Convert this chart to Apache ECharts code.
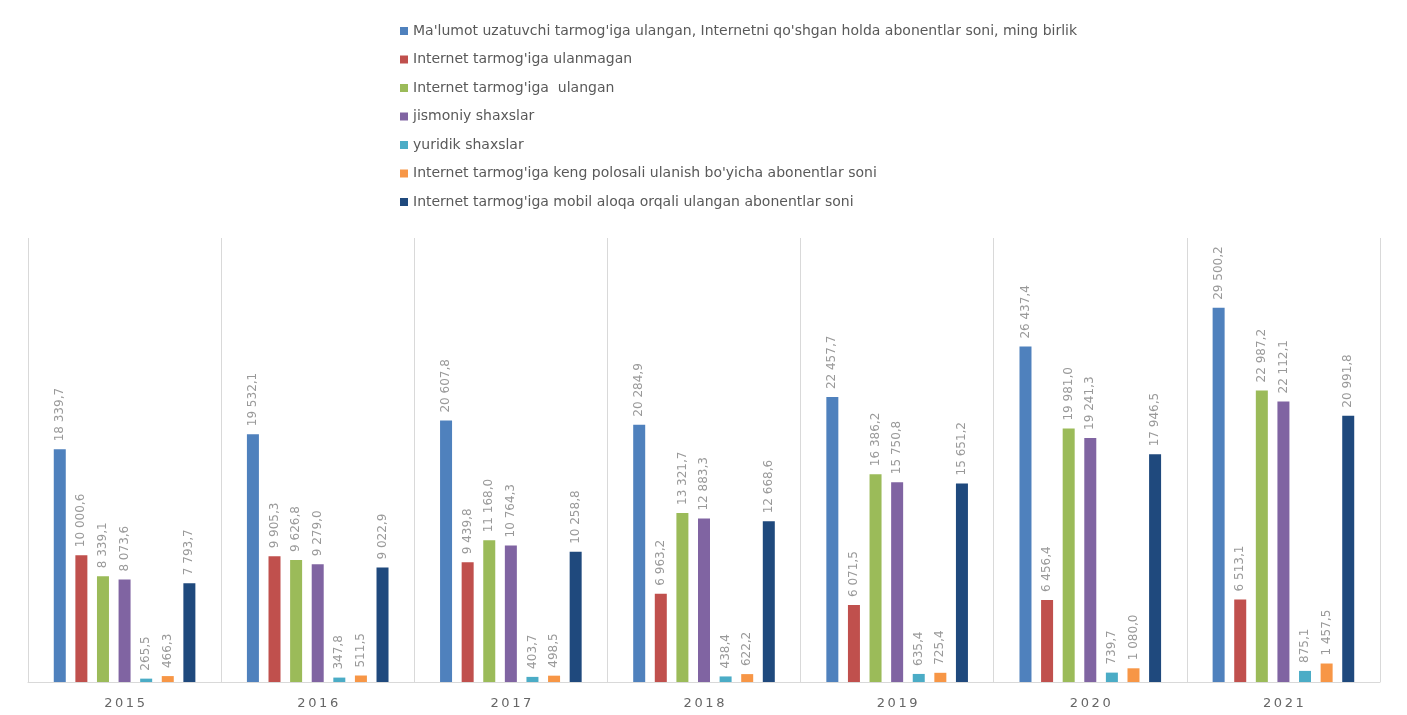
<!DOCTYPE html>
<html><head><meta charset="utf-8">
<script src="https://cdn.jsdelivr.net/npm/echarts@6/dist/echarts.min.js"></script>
<style>html,body{margin:0;padding:0;background:#fff}#c{width:1407px;height:715px}</style>
</head><body><div id="c"></div>
<script>
const years = ['2015','2016','2017','2018','2019','2020','2021'];
const seriesNames = [
  "Ma'lumot uzatuvchi tarmog'iga ulangan, Internetni qo'shgan holda abonentlar soni, ming birlik",
  "Internet tarmog'iga ulanmagan",
  "Internet tarmog'iga  ulangan",
  "jismoniy shaxslar",
  "yuridik shaxslar",
  "Internet tarmog'iga keng polosali ulanish bo'yicha abonentlar soni",
  "Internet tarmog'iga mobil aloqa orqali ulangan abonentlar soni"
];
const totalSubs   = [18339.7, 19532.1, 20607.8, 20284.9, 22457.7, 26437.4, 29500.2];
const notInternet = [10000.6, 9905.3, 9439.8, 6963.2, 6071.5, 6456.4, 6513.1];
const internet    = [8339.1, 9626.8, 11168.0, 13321.7, 16386.2, 19981.0, 22987.2];
const individuals = [8073.6, 9279.0, 10764.3, 12883.3, 15750.8, 19241.3, 22112.1];
const legalEnt    = [265.5, 347.8, 403.7, 438.4, 635.4, 739.7, 875.1];
const broadband   = [466.3, 511.5, 498.5, 622.2, 725.4, 1080.0, 1457.5];
const mobile      = [7793.7, 9022.9, 10258.8, 12668.6, 15651.2, 17946.5, 20991.8];
const allData = [totalSubs, notInternet, internet, individuals, legalEnt, broadband, mobile];
const colors = ['#4F81BD','#C0504D','#9BBB59','#8064A2','#4BACC6','#F79646','#1F497D'];

function fmt(v){
  const s = v.toFixed(1).split('.');
  return s[0].replace(/\B(?=(\d{3})+(?!\d))/g,' ') + ',' + s[1];
}
const chart = echarts.init(document.getElementById('c'));
chart.setOption({
  animation:false,
  color: colors,
  legend:{
    orient:'vertical', left:395, top:19,
    icon:'rect', itemWidth:8, itemHeight:8, itemGap:14.5, itemTextGap:5,
    textStyle:{fontFamily:'DejaVu Sans', fontSize:14, color:'#595959', lineHeight:14}
  },
  grid:{left:28, right:27, top:238, bottom:33},
  xAxis:{
    type:'category', data:years,
    axisLine:{lineStyle:{color:'#d9d9d9'}},
    axisTick:{show:false},
    splitLine:{show:true, lineStyle:{color:'#d9d9d9'}},
    axisLabel:{fontFamily:'DejaVu Sans', fontSize:13, color:'#666666', margin:15,
      formatter: v => v.split('').join('\u2009')}
  },
  yAxis:{type:'value', min:0, max:35000, show:false, splitLine:{show:false}},
  series: allData.map((d,i)=>({
    name: seriesNames[i], type:'bar', data:d, barWidth:12, barGap:'80%',
    label:{show:true, position:'top', rotate:90, align:'left', verticalAlign:'middle', distance:8,
      fontFamily:'DejaVu Sans', fontSize:12, color:'#999999',
      formatter: p => fmt(p.value)}
  }))
});
</script></body></html>
